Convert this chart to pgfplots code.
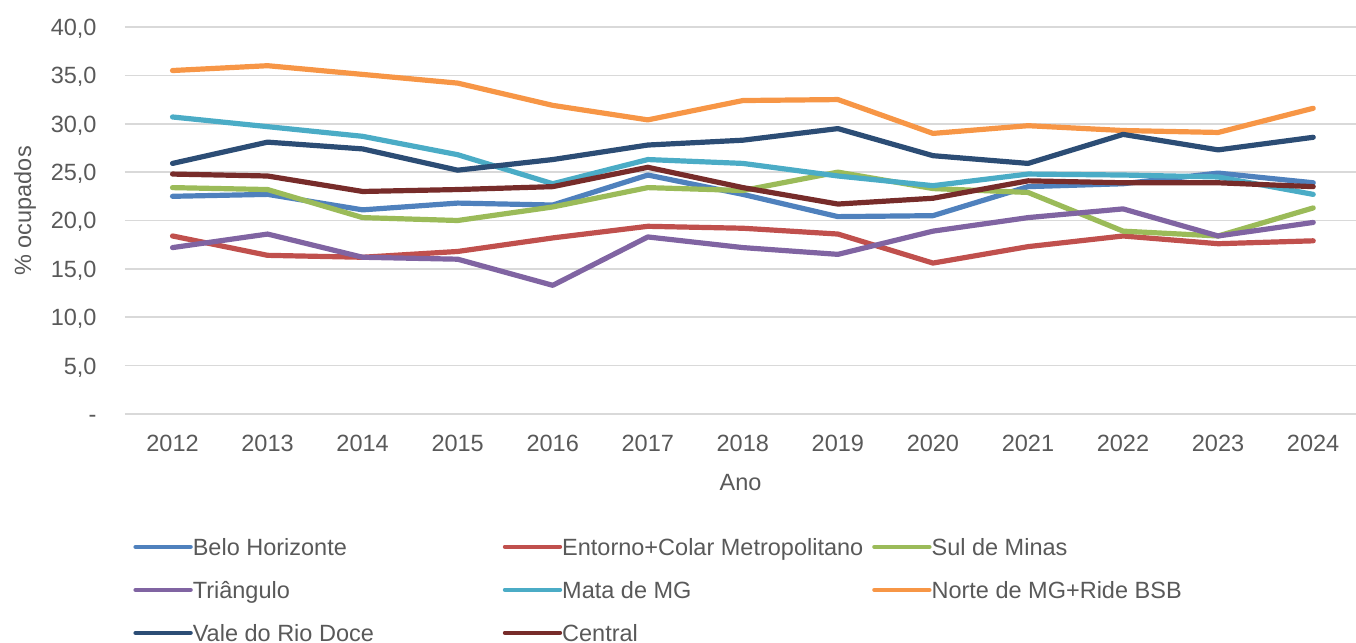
\documentclass[border=0pt]{standalone}
\usepackage{fontspec}
\setmainfont{Liberation Sans}
\usepackage{pgfplots}
\usepackage{pgfplotstable}
\pgfplotsset{compat=1.18}

\definecolor{txt}{HTML}{595959}
\definecolor{gridc}{HTML}{D9D9D9}
\definecolor{cBH}{HTML}{4F81BD}
\definecolor{cEnt}{HTML}{C0504D}
\definecolor{cSul}{HTML}{9BBB59}
\definecolor{cTri}{HTML}{8064A2}
\definecolor{cMata}{HTML}{4BACC6}
\definecolor{cNorte}{HTML}{F79646}
\definecolor{cVale}{HTML}{2C4D75}
\definecolor{cCen}{HTML}{772C2A}

\pgfplotstableread{
ano  bh   ent  sul  tri  mata norte vale cen
2012 22.5 18.4 23.4 17.2 30.7 35.5 25.9 24.8
2013 22.7 16.4 23.2 18.6 29.7 36.0 28.1 24.6
2014 21.1 16.2 20.3 16.2 28.7 35.1 27.4 23.0
2015 21.8 16.8 20.0 16.0 26.8 34.2 25.2 23.2
2016 21.6 18.2 21.4 13.3 23.8 31.9 26.3 23.5
2017 24.7 19.4 23.4 18.3 26.3 30.4 27.8 25.5
2018 22.7 19.2 23.1 17.2 25.9 32.4 28.3 23.4
2019 20.4 18.6 25.0 16.5 24.6 32.5 29.5 21.7
2020 20.5 15.6 23.3 18.9 23.6 29.0 26.7 22.3
2021 23.5 17.3 22.9 20.3 24.8 29.8 25.9 24.1
2022 23.8 18.4 18.9 21.2 24.7 29.3 28.9 23.9
2023 24.9 17.6 18.4 18.4 24.5 29.1 27.3 23.9
2024 23.9 17.9 21.3 19.8 22.7 31.6 28.6 23.5
}\dados

\newcommand{\lbl}[1]{\makebox[155pt][l]{#1}}

\begin{document}
\begin{tikzpicture}
\begin{axis}[
  at={(0pt,0pt)}, anchor=south west,
  scale only axis,
  width=615.5pt, height=193.5pt,
  font=\fontsize{11.75pt}{14pt}\selectfont,
  xmin=2011.5, xmax=2024.45,
  ymin=0, ymax=40,
  xtick={2012,...,2024},
  xticklabels={2012,2013,2014,2015,2016,2017,2018,2019,2020,2021,2022,2023,2024},
  ytick={0,5,...,40},
  yticklabels={-,{5,0},{10,0},{15,0},{20,0},{25,0},{30,0},{35,0},{40,0}},
  axis line style={draw=none},
  tick style={draw=none},
  ymajorgrids,
  grid style={gridc, line width=0.8pt},
  xticklabel style={anchor=base, yshift=-18.9pt, text=txt},
  yticklabel style={anchor=base east, xshift=-10.7pt, yshift=-4.2pt, text=txt},
  xlabel={Ano},
  xlabel style={at={(axis description cs:0.5,0)}, anchor=base, yshift=-38pt, text=txt},
  ylabel={\% ocupados},
  ylabel style={at={(axis description cs:-0.0812,0.525)}, anchor=center, rotate=0, text=txt},
  every axis plot/.append style={line width=2.6pt, line cap=round, line join=round, no marks},
  legend columns=3,
  legend cell align=left,
  legend style={
    at={(axis description cs:0.0065,-0.3204)}, anchor=north west,
    draw=none, fill=none, inner sep=0pt,
    font=\fontsize{11.75pt}{14pt}\selectfont, text=txt,
    row sep=13pt,
    nodes={inner xsep=0pt, inner ysep=0pt, text height=8.5pt, text depth=0pt},
    /tikz/every odd column/.append style={column sep=0pt},
  },
  legend image code/.code={\draw[line width=2.2pt, line cap=round] (0pt,0pt) -- (27.5pt,0pt);},
]
\addplot[cBH]    table[x=ano, y=bh]    {\dados}; \addlegendentry{\lbl{Belo Horizonte}}
\addplot[cEnt]   table[x=ano, y=ent]   {\dados}; \addlegendentry{\lbl{Entorno+Colar Metropolitano}}
\addplot[cSul]   table[x=ano, y=sul]   {\dados}; \addlegendentry{\lbl{Sul de Minas}}
\addplot[cTri]   table[x=ano, y=tri]   {\dados}; \addlegendentry{\lbl{Triângulo}}
\addplot[cMata]  table[x=ano, y=mata]  {\dados}; \addlegendentry{\lbl{Mata de MG}}
\addplot[cNorte] table[x=ano, y=norte] {\dados}; \addlegendentry{\lbl{Norte de MG+Ride BSB}}
\addplot[cVale]  table[x=ano, y=vale]  {\dados}; \addlegendentry{\lbl{Vale do Rio Doce}}
\addplot[cCen]   table[x=ano, y=cen]   {\dados}; \addlegendentry{\lbl{Central}}
\end{axis}
\pgfresetboundingbox
\path (-62.5pt,-114.5pt) rectangle (615.5pt,207pt);
\end{tikzpicture}
\end{document}
